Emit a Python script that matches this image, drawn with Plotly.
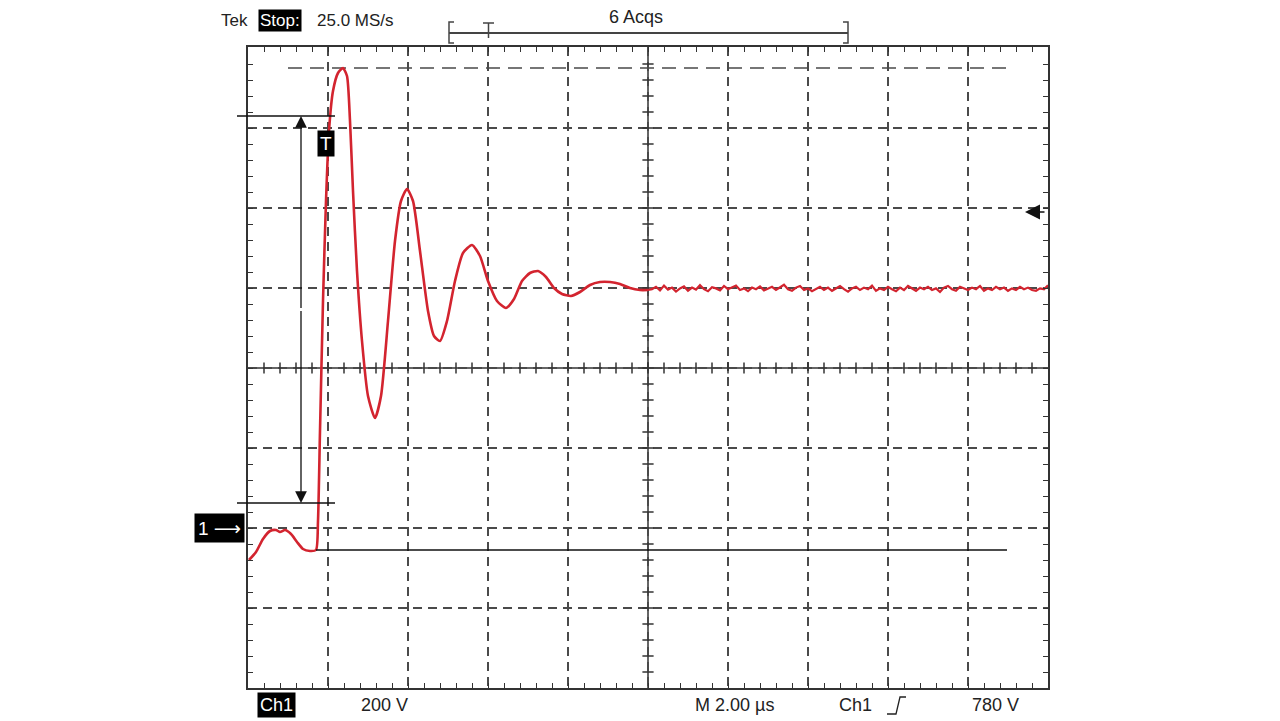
import numpy as np
import plotly.graph_objects as go

# ---- data (time in microseconds, voltage in volts) ----
ring_t = [0.025, 0.2, 0.375, 0.55, 0.7, 0.8, 0.925, 1.075, 1.225, 1.375, 1.55, 1.7,
          1.75, 1.8, 1.875, 1.95, 2.025, 2.125, 2.25, 2.375, 2.475, 2.55, 2.625, 2.725,
          2.85, 3.0, 3.175, 3.325, 3.5, 3.675, 3.825, 3.975, 4.125, 4.3, 4.5, 4.65,
          4.8, 4.975, 5.175, 5.375, 5.6, 5.8, 6.0, 6.225, 6.45, 6.65, 6.85, 7.05,
          7.25, 7.45, 7.65, 7.85, 8.075, 8.3, 8.55, 8.8, 9.05, 9.3, 9.55, 9.8, 10.0]
ring_v = [-80, -60, -27.5, -7.5, -5, -10, -5, -15, -35, -52.5, -57.5, -55,
          17.5, 242.5, 567.5, 817.5, 992.5, 1092.5, 1137.5, 1150, 1130, 1017.5, 842.5, 642.5,
          467.5, 330, 275, 330, 517.5, 717.5, 817.5, 847.5, 817.5, 692.5, 542.5, 480,
          467.5, 517.5, 617.5, 687.5, 707.5, 680, 617.5, 567.5, 550, 572.5, 617.5, 637.5,
          642.5, 627.5, 600, 585, 580, 590, 607.5, 615, 615, 610, 600, 595, 595]

settle_t = list(np.round(np.arange(10.1, 20.001, 0.1), 2))
settle_v = [597, 603, 594, 606, 596, 601, 591, 599, 604, 593,
            601, 596, 607, 597, 592, 602, 599, 594, 605, 597,
            601, 606, 595, 599, 592, 601, 597, 604, 594, 599,
            603, 595, 601, 608, 597, 593, 601, 605, 595, 599,
            592, 597, 603, 595, 601, 593, 599, 605, 597, 591,
            599, 603, 595, 601, 597, 606, 593, 599, 595, 603,
            597, 592, 601, 595, 605, 599, 593, 601, 597, 603,
            595, 599, 590, 601, 605, 597, 593, 603, 599, 595,
            601, 597, 605, 593, 599, 595, 603, 597, 601, 593,
            599, 595, 603, 597, 601, 595, 593, 599, 597, 607]

cursor_levels = [1030, 62.5]     # V, measurement cursors
baseline_level = -55             # V
trigger_level = 790              # V
time_range = [0, 20]
volt_range = [-400, 1202.5]
center_t = 10
center_v = 400

RED = "#d3242f"
GRID = "#4a4a4a"
FRAME = "#333333"
FONT = "Liberation Sans, Arial, sans-serif"

# reference pixel frame of the plot area
L, R, T, B = 248, 1048, 47, 688
OFF = 8  # page body margin in the browser
def px(x):
    return (x - L) / (R - L)
def py(y):
    return (B - y) / (B - T)

fig = go.Figure()

# graticule ticks on the center lines
tick_t = np.round(np.arange(0.4, 20, 0.4), 2)
tick_v = np.arange(-360, 1200, 40)
fig.add_trace(go.Scatter(x=tick_t, y=[center_v] * len(tick_t), mode="markers",
                         marker=dict(symbol="line-ns", size=8, line=dict(width=1.5, color=FRAME)),
                         hoverinfo="skip", showlegend=False))
fig.add_trace(go.Scatter(x=[center_t] * len(tick_v), y=tick_v, mode="markers",
                         marker=dict(symbol="line-ew", size=8, line=dict(width=1.5, color=FRAME)),
                         hoverinfo="skip", showlegend=False))

# waveform
fig.add_trace(go.Scatter(x=ring_t, y=ring_v, mode="lines",
                         line=dict(color=RED, width=2.6, shape="spline", smoothing=0.6),
                         showlegend=False))
fig.add_trace(go.Scatter(x=[10.0] + settle_t, y=[595] + settle_v, mode="lines",
                         line=dict(color=RED, width=2.2),
                         showlegend=False))

shapes = []
# center solid lines
shapes.append(dict(type="line", xref="x", yref="y", x0=center_t, x1=center_t,
                   y0=volt_range[0], y1=volt_range[1], line=dict(color=FRAME, width=1.5), layer="below"))
shapes.append(dict(type="line", xref="x", yref="y", x0=time_range[0], x1=time_range[1],
                   y0=center_v, y1=center_v, line=dict(color=FRAME, width=1.5), layer="below"))
# top dashed reference line
shapes.append(dict(type="line", xref="paper", yref="y", x0=px(288), x1=px(1010),
                   y0=1150, y1=1150, line=dict(color=GRID, width=1.5, dash="14px,8px"), layer="below"))
# cursors
for lv in cursor_levels:
    shapes.append(dict(type="line", xref="paper", yref="y", x0=px(237), x1=px(335),
                       y0=lv, y1=lv, line=dict(color="#111111", width=1.3)))
shapes.append(dict(type="line", xref="paper", yref="y", x0=px(316), x1=px(1007),
                   y0=baseline_level, y1=baseline_level, line=dict(color="#111111", width=1.3)))
# top record bracket
yb = py(33)
shapes += [
    dict(type="line", xref="paper", yref="paper", x0=px(449), x1=px(848), y0=yb, y1=yb,
         line=dict(color="#444", width=2)),
    dict(type="path", xref="paper", yref="paper",
         path=f"M {px(454)},{py(22)} L {px(449)},{py(22)} L {px(449)},{py(43)} L {px(454)},{py(43)}",
         line=dict(color="#444", width=1.5)),
    dict(type="path", xref="paper", yref="paper",
         path=f"M {px(843)},{py(22)} L {px(848)},{py(22)} L {px(848)},{py(43)} L {px(843)},{py(43)}",
         line=dict(color="#444", width=1.5)),
    dict(type="path", xref="paper", yref="paper",
         path=f"M {px(483)},{py(23)} L {px(494)},{py(23)} M {px(488.5)},{py(23)} L {px(488.5)},{py(38)}",
         line=dict(color="#444", width=1.5)),
]
# trigger slope glyph
shapes.append(dict(type="path", xref="paper", yref="paper",
                   path=f"M {px(887)},{py(714)} L {px(896)},{py(714)} L {px(900)},{py(697)} L {px(906)},{py(697)}",
                   line=dict(color="#222", width=1.3)))

annotations = []
def label(x, y, text, size=20, box=False, pad=1, xanchor="center"):
    annotations.append(dict(xref="paper", yref="paper", x=px(x), y=py(y), text=text,
                            showarrow=False, xanchor=xanchor, yanchor="middle",
                            font=dict(family=FONT, size=size, color="white" if box else "#222"),
                            bgcolor="black" if box else None, borderpad=pad))

label(234, 20, "Tek", size=17)
label(280, 20, "Stop:", box=True, size=17, pad=1)
label(355, 20, "25.0 MS/s", size=17)
label(636, 17, "6 Acqs", size=18)
label(276, 705, "Ch1", box=True, size=18, pad=2)
label(384, 705, "200 V", size=18)
label(734, 705, "M 2.00 µs", size=18)
label(855, 705, "Ch1", size=18)
label(995, 705, "780 V", size=18)
label(219, 528, "1 <span style='font-family:DejaVu Sans'>⟶</span>", box=True, size=19, pad=3)
label(326, 143, "T", box=True, size=19, pad=2)

# double arrow between cursors
t_arrow = 1.325
mid_v = (cursor_levels[0] + cursor_levels[1]) / 2
for lv in cursor_levels:
    annotations.append(dict(xref="x", yref="y", x=t_arrow, y=lv, ax=t_arrow, ay=mid_v,
                            axref="x", ayref="y", showarrow=True, arrowhead=2, arrowsize=1.8,
                            arrowwidth=1.3, arrowcolor="#111", text=""))
# trigger level marker on right edge
annotations.append(dict(xref="paper", yref="y", x=px(1025), y=trigger_level,
                        ax=21, ay=0,
                        showarrow=True, arrowhead=2, arrowsize=2.0, arrowwidth=1.5,
                        arrowcolor="#111", text=""))

fig.update_layout(
    width=1280, height=721,
    margin=dict(l=L - OFF, r=1280 - R + OFF, t=T - OFF, b=721 - B + OFF),
    paper_bgcolor="white", plot_bgcolor="white",
    shapes=shapes, annotations=annotations,
    xaxis=dict(range=time_range, showticklabels=False, dtick=2, tick0=0,
               showgrid=True, gridcolor=GRID, gridwidth=1.5, griddash="9px,6px",
               zeroline=False, showline=True, linecolor=FRAME, linewidth=1.5, mirror="allticks",
               ticks="inside", ticklen=5, tickcolor=FRAME, tickwidth=1.3,
               minor=dict(dtick=0.4, tick0=0, ticks="inside", ticklen=5, tickcolor=FRAME,
                          tickwidth=1.3, showgrid=False)),
    yaxis=dict(range=volt_range, showticklabels=False, dtick=200, tick0=0,
               showgrid=True, gridcolor=GRID, gridwidth=1.5, griddash="9px,6px",
               zeroline=False, showline=True, linecolor=FRAME, linewidth=1.5, mirror="allticks",
               ticks="inside", ticklen=5, tickcolor=FRAME, tickwidth=1.3,
               minor=dict(dtick=40, tick0=0, ticks="inside", ticklen=5, tickcolor=FRAME,
                          tickwidth=1.3, showgrid=False)),
)

fig.write_html("out.html")
